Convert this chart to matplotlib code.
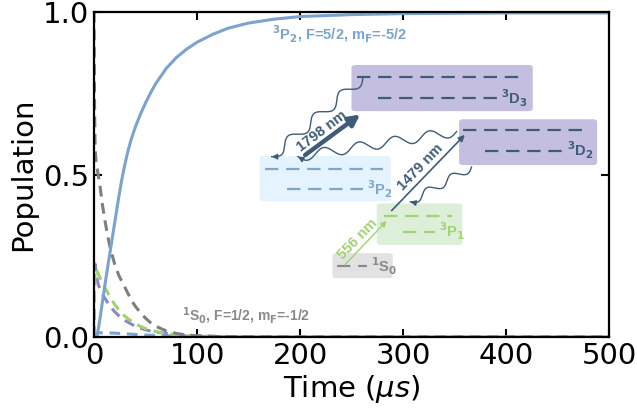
import numpy as np
import matplotlib
matplotlib.use("Agg")
import matplotlib.pyplot as plt
from matplotlib.patches import FancyBboxPatch

# populations (time in us)
t_p2 = [0, 2, 3, 5, 8, 10, 12, 15, 18, 21, 24, 27, 30, 33, 36, 40, 45, 50, 55, 60,
        70, 80, 90, 100, 115, 130, 150, 175, 200, 250, 300, 400, 500]
pop_p2 = [0, 0.0, 0.005, 0.04, 0.105, 0.147, 0.19, 0.25, 0.31, 0.37, 0.43, 0.485,
          0.532, 0.573, 0.607, 0.645, 0.685, 0.72, 0.752, 0.78, 0.826, 0.86, 0.886,
          0.907, 0.931, 0.95, 0.966, 0.978, 0.986, 0.992, 0.995, 0.997, 0.997]

t_s0 = [0, 0.5, 1, 1.5, 2, 4, 6, 8, 10, 13, 16, 20, 24, 28, 32, 36, 40, 45, 50, 55,
        60, 70, 80, 90, 100, 120, 150, 200, 500]
pop_s0 = [1.0, 0.72, 0.6, 0.56, 0.54, 0.5, 0.46, 0.41, 0.37, 0.315, 0.27, 0.225,
          0.19, 0.165, 0.14, 0.115, 0.095, 0.075, 0.058, 0.044, 0.033, 0.019, 0.011,
          0.006, 0.004, 0.0015, 0.0005, 0.0, 0.0]

t_short = [0, 0.5, 1, 2, 4, 7, 10, 15, 20, 25, 30, 40, 50, 60, 70, 80, 100, 130, 200, 500]
pop_p1 = [0, 0.15, 0.2, 0.21, 0.195, 0.175, 0.155, 0.127, 0.1, 0.08, 0.064, 0.04,
          0.026, 0.017, 0.011, 0.007, 0.003, 0.001, 0, 0]
pop_d = [0, 0.2, 0.225, 0.2, 0.162, 0.14, 0.122, 0.097, 0.078, 0.063, 0.051, 0.033,
         0.022, 0.015, 0.011, 0.007, 0.003, 0.001, 0, 0]

t_low = [0, 2, 5, 10, 20, 30, 40, 50, 60, 80, 100, 150, 500]
pop_low = [0, 0.01, 0.013, 0.013, 0.012, 0.01, 0.008, 0.006, 0.005, 0.003, 0.002, 0.0, 0.0]

c_blue = '#7ba3cf'
c_gray = '#7f7f7f'
c_green = '#9fd36e'
c_purple = '#8f86c8'
c_dark = '#3f5b7a'

fig = plt.figure(figsize=(6.37, 4.17), dpi=100)
ax = fig.add_axes([0.1476, 0.1918, 0.8084, 0.7794])

ax.plot(t_low, pop_low, color=c_blue, lw=2.2, dashes=(3.5, 2.2))
ax.plot(t_short, pop_d, color=c_purple, lw=2.2, dashes=(3.5, 2.2))
ax.plot(t_short, pop_p1, color=c_green, lw=2.2, dashes=(3.5, 2.2))
ax.plot(t_s0, pop_s0, color=c_gray, lw=2.2, dashes=(3.5, 2.2))
ax.plot(t_p2, pop_p2, color=c_blue, lw=2.2)

ax.set_xlim(0, 500)
ax.set_ylim(0, 1)
ax.set_xticks([0, 100, 200, 300, 400, 500])
ax.set_yticks([0, 0.5, 1.0])
ax.set_yticklabels(['0.0', '0.5', '1.0'])
ax.tick_params(direction='in', length=6, width=1.5, labelsize=21,
               top=True, right=True)
for s in ax.spines.values():
    s.set_linewidth(1.6)
ax.set_xlabel(r'Time ($\mu s$)', fontsize=21, labelpad=2)
ax.set_ylabel('Population', fontsize=21, labelpad=4)

# curve labels
lab = dict(fontweight='bold', family='Liberation Sans',
           transform=ax.transAxes, va='center', ha='left')
ax.text(0.345, 0.93, r'$^\mathbf{3}$P$_\mathbf{2}$, F=5/2, m$_\mathbf{F}$=-5/2',
        color=c_blue, fontsize=10.5, **lab)
ax.text(0.171, 0.065, r'$^\mathbf{1}$S$_\mathbf{0}$, F=1/2, m$_\mathbf{F}$=-1/2',
        color='#8a8a8a', fontsize=10, **lab)

# level diagram (axes fraction)
levels = [
    # box x, y, w, h, box colour, line colour, (y1, x1a, x1b), (y2, x2a, x2b), label
    (0.500, 0.695, 0.352, 0.142, '#c4bfe0', c_dark, (0.801, 0.510, 0.833),
     (0.734, 0.551, 0.783), r'$^\mathbf{3}$D$_\mathbf{3}$'),
    (0.709, 0.529, 0.268, 0.141, '#c4bfe0', c_dark, (0.637, 0.717, 0.953),
     (0.573, 0.759, 0.911), r'$^\mathbf{3}$D$_\mathbf{2}$'),
    (0.322, 0.418, 0.254, 0.139, '#e4f3fd', '#7ea7cc', (0.517, 0.332, 0.561),
     (0.455, 0.375, 0.522), r'$^\mathbf{3}$P$_\mathbf{2}$'),
    (0.549, 0.283, 0.166, 0.128, '#ddefd9', '#a0d372', (0.373, 0.563, 0.695),
     (0.324, 0.600, 0.662), r'$^\mathbf{3}$P$_\mathbf{1}$'),
    (0.463, 0.181, 0.117, 0.077, '#e2e2e2', '#8a8a8a', None,
     (0.219, 0.472, 0.530), r'$^\mathbf{1}$S$_\mathbf{0}$'),
]
for bx, by, bw, bh, bc, lc, l1, l2, name in levels:
    ax.add_patch(FancyBboxPatch((bx, by), bw, bh, transform=ax.transAxes,
                                boxstyle='round,pad=0,rounding_size=0.008',
                                fc=bc, ec='none', zorder=4))
    for l in (l1, l2):
        if l is None:
            continue
        ax.plot([l[1], l[2]], [l[0], l[0]], transform=ax.transAxes, color=lc,
                lw=1.6, dashes=(6, 3.5), zorder=5)
    ax.text(l2[2] + 0.008, l2[0], name, transform=ax.transAxes, color=lc,
            fontsize=10.5, fontweight='bold', family='Liberation Sans',
            va='center', ha='left', zorder=6)

W, H = 515.0, 325.0


def wavy(p0, p1, n, amp=4.0, color=c_dark):
    x0, y0 = p0[0] * W, p0[1] * H
    x1, y1 = p1[0] * W, p1[1] * H
    L = np.hypot(x1 - x0, y1 - y0)
    ux, uy = (x1 - x0) / L, (y1 - y0) / L
    s = np.linspace(0, 1, 300)
    off = amp * np.sin(2 * np.pi * n * s)
    xs = x0 + (x1 - x0) * s - uy * off
    ys = y0 + (y1 - y0) * s + ux * off
    ax.plot(xs / W, ys / H, transform=ax.transAxes, color=color, lw=1.0, zorder=6)
    ax.annotate('', xy=(xs[-1] / W, ys[-1] / H), xytext=(xs[-8] / W, ys[-8] / H),
                xycoords='axes fraction', textcoords='axes fraction',
                arrowprops=dict(arrowstyle='-|>', color=color, lw=1.0,
                                mutation_scale=8, shrinkA=0, shrinkB=0), zorder=6)


wavy((0.522, 0.797), (0.345, 0.555), 3.5, amp=5)
wavy((0.704, 0.632), (0.396, 0.555), 4.5, amp=5)
wavy((0.733, 0.523), (0.614, 0.416), 2.5)


def arrow(p0, p1, color, lw, ms):
    ax.annotate('', xy=p1, xytext=p0, xycoords='axes fraction',
                textcoords='axes fraction',
                arrowprops=dict(arrowstyle='-|>', color=color, lw=lw,
                                mutation_scale=ms, shrinkA=0, shrinkB=0), zorder=7)


arrow((0.487, 0.222), (0.568, 0.357), '#a0d372', 1.0, 8)
arrow((0.578, 0.389), (0.720, 0.622), c_dark, 1.2, 9)
arrow((0.410, 0.560), (0.517, 0.685), c_dark, 3.2, 16)

tl = dict(transform=ax.transAxes, fontsize=10.5, fontweight='bold',
          family='Liberation Sans', ha='center', va='center',
          rotation_mode='anchor', zorder=8)
ax.text(0.512, 0.300, '556 nm', color='#a0d372', rotation=46, **tl)
ax.text(0.634, 0.522, '1479 nm', color=c_dark, rotation=46, **tl)
ax.text(0.443, 0.633, '1798 nm', color=c_dark, rotation=37, **tl)

fig.savefig('out.png', dpi=100)
